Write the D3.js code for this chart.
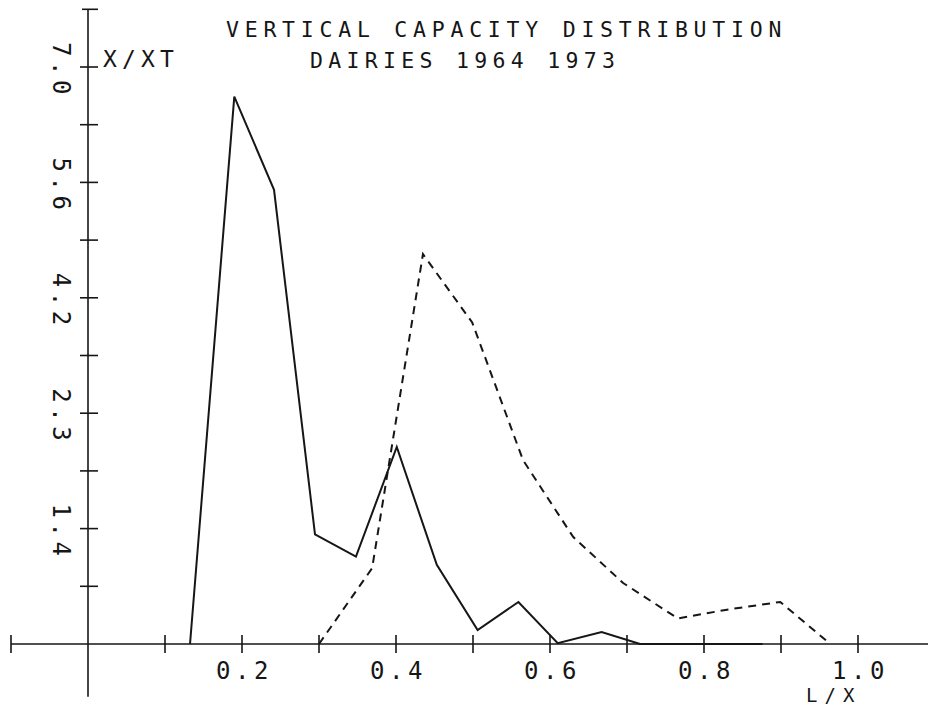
<!DOCTYPE html>
<html>
<head>
<meta charset="utf-8">
<script src="https://cdn.jsdelivr.net/npm/d3@7"></script>
<style>
  html, body { margin: 0; padding: 0; background: #fff; }
  svg { display: block; }
  text { font-family: "DejaVu Sans Mono", "Liberation Mono", monospace; fill: #161616; }
</style>
</head>
<body>
<svg id="chart" width="928" height="708"></svg>
<script>
// ---- data ----
const titleLines = ["VERTICAL CAPACITY DISTRIBUTION", "DAIRIES 1964 1973"];
const yAxisTitle = "X/XT";
const xAxisTitle = "L/X";

// solid series (1964)
const solidX = [0.1325, 0.190, 0.2416, 0.2948, 0.348, 0.401, 0.453, 0.506, 0.559, 0.610, 0.667, 0.717, 0.770, 0.823, 0.876];
const solidY = [0.00,   6.64,  5.51,   1.33,   1.06,  2.39,  0.96,  0.17,  0.51,  0.01,  0.145, 0.00,  0.00,  0.00,  0.00];

// dashed series (1973)
const dashX = [0.300, 0.369, 0.435, 0.499, 0.565, 0.630, 0.695, 0.766, 0.832, 0.899, 0.964];
const dashY = [0.00,  0.92,  4.73,  3.90,  2.23,  1.30,  0.74,  0.31,  0.42,  0.51,  0.00];

const xTickValues = [0.1, 0.2, 0.3, 0.4, 0.5, 0.6, 0.7, 0.8, 0.9, 1.0];
const xLabelValues = [0.2, 0.4, 0.6, 0.8, 1.0];
const xLabelTexts = ["0.2", "0.4", "0.6", "0.8", "1.0"];
const yTickValues = [0.7, 1.4, 2.1, 2.8, 3.5, 4.2, 4.9, 5.6, 6.3, 7.0];
const yLabelValues = [1.4, 2.8, 4.2, 5.6, 7.0];
const yLabelTexts = ["1.4", "2.3", "4.2", "5.6", "7.0"];

// ---- drawing ----
const svg = d3.select("#chart");
const ink = "#161616";

const x = d3.scaleLinear().domain([0, 1]).range([88, 858]);
const y = d3.scaleLinear().domain([0, 7]).range([644, 67]);

function mono(sel, fs, adv) {
  return sel.attr("font-size", fs).attr("letter-spacing", (adv - 0.602 * fs).toFixed(2));
}

// axes lines
const axes = svg.append("g").attr("stroke", ink).attr("stroke-width", 1.6).attr("fill", "none");
axes.append("line").attr("x1", x(-0.1)).attr("x2", x(1.1)).attr("y1", y(0)).attr("y2", y(0));
axes.append("line").attr("x1", x(0)).attr("x2", x(0)).attr("y1", y(7.7)).attr("y2", y(-0.64));
// caps
axes.append("line").attr("x1", x(-0.1)).attr("x2", x(-0.1)).attr("y1", y(0) - 9).attr("y2", y(0) + 9);
axes.append("line").attr("x1", x(0) - 6).attr("x2", x(0) + 10).attr("y1", y(7.7)).attr("y2", y(7.7));

// x ticks
axes.selectAll(".xt").data(xTickValues).join("line")
  .attr("x1", d => x(d)).attr("x2", d => x(d))
  .attr("y1", y(0) - 9).attr("y2", y(0) + 9);
// y ticks
axes.selectAll(".yt").data(yTickValues).join("line")
  .attr("x1", x(0) - 8).attr("x2", x(0) + 10)
  .attr("y1", d => y(d)).attr("y2", d => y(d));

// x labels
const xl = svg.append("g");
xl.selectAll("text").data(xLabelValues).join("text")
  .attr("x", d => x(d) - 26)
  .attr("y", y(0) + 35)
  .call(s => mono(s, 24, 19))
  .text((d, i) => xLabelTexts[i]);

// y labels (rotated, reading downward)
const yl = svg.append("g");
yl.selectAll("text").data(yLabelValues).join("text")
  .attr("transform", d => `translate(${x(0) - 35},${y(d) - 25}) rotate(90)`)
  .call(s => mono(s, 24, 19))
  .text((d, i) => yLabelTexts[i]);

// axis titles
svg.append("text").attr("x", 103).attr("y", y(7.0)).call(s => mono(s, 23, 19)).text(yAxisTitle);
svg.append("text").attr("x", 806).attr("y", 702).call(s => mono(s, 19, 18.5)).text(xAxisTitle);

// title
const titleX = [226, 310];
const titleY = [37, 68];
const titleAdv = [18.7, 18.25];
svg.append("g").selectAll("text").data(titleLines).join("text")
  .attr("x", (d, i) => titleX[i]).attr("y", (d, i) => titleY[i])
  .each(function (d, i) { mono(d3.select(this), 21.5, titleAdv[i]); })
  .text(d => d);

// series
const line = d3.line().x(d => x(d[0])).y(d => y(d[1]));
svg.append("path")
  .datum(solidX.map((v, i) => [v, solidY[i]]))
  .attr("d", line).attr("fill", "none").attr("stroke", ink)
  .attr("stroke-width", 2).attr("stroke-linejoin", "miter");
svg.append("path")
  .datum(dashX.map((v, i) => [v, dashY[i]]))
  .attr("d", line).attr("fill", "none").attr("stroke", ink)
  .attr("stroke-width", 2).attr("stroke-dasharray", "8,6");
</script>
</body>
</html>
